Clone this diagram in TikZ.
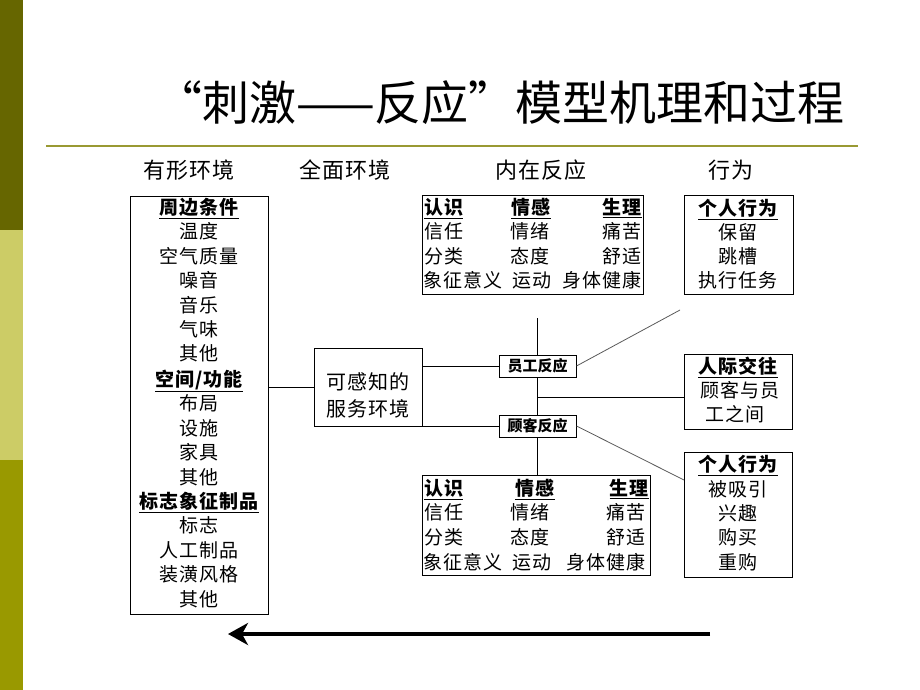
\documentclass[tikz,border=0pt]{standalone}
\usepackage{fontspec}
\setmainfont{Noto Sans CJK SC}
\newfontfamily\bodyfont{Noto Sans CJK SC}[LetterSpace=6]
\usetikzlibrary{arrows.meta}
\definecolor{oliveA}{HTML}{666600}
\definecolor{oliveB}{HTML}{CCCC66}
\definecolor{oliveC}{HTML}{999900}
\definecolor{ruleC}{HTML}{999933}
\begin{document}
\begin{tikzpicture}[x=1pt,y=-1pt,
  box/.style={draw, line width=1pt, rectangle, inner sep=0pt},
  txt/.style={inner sep=0pt, text height=17pt, text depth=4pt, font=\bodyfont\fontsize{19}{19}\selectfont},
  hd/.style={inner sep=0pt, text height=17pt, text depth=4pt, font=\bodyfont\fontsize{19}{19}\selectfont\bfseries},
  colhd/.style={inner sep=0pt, font=\bodyfont\fontsize{22}{22}\selectfont},
  react/.style={box, minimum width=77pt, minimum height=22pt, font=\fontsize{15}{15}\selectfont\bfseries},
  conn/.style={line width=1pt},
  diag/.style={line width=0.8pt, gray!70!black}]
\useasboundingbox (0,0) rectangle (920,690);
% side bar
\fill[oliveA] (0,0) rectangle (23,230);
\fill[oliveB] (0,230) rectangle (23,460);
\fill[oliveC] (0,460) rectangle (23,690);
% title and rule
\node[inner sep=0pt, font=\fontsize{47}{47}\selectfont] (title) at (500,103) {“刺激——反应”模型机理和过程};
\coordinate (ruleL) at (46,146);
\coordinate (ruleR) at (858,146);
\draw[ruleC, line width=2pt] (ruleL) -- (ruleR);
% column headers
\node[colhd] (h1) at (189,170) {有形环境};
\node[colhd] (h2) at (345,170) {全面环境};
\node[colhd] (h3) at (541,170) {内在反应};
\node[colhd] (h4) at (731,170) {行为};
% boxes
\node[box, minimum width=138pt, minimum height=418pt] (env) at (199,405) {};
\node[box, minimum width=108pt, minimum height=78pt] (perc) at (368,387) {};
\node[react] (staff) at (537.5,366) {员工反应};
\node[react] (cust) at (537.5,426) {顾客反应};
\node[box, minimum width=221pt, minimum height=99pt] (upin) at (532.5,244.5) {};
\node[box, minimum width=228pt, minimum height=100pt] (lowin) at (536,525) {};
\node[box, minimum width=109pt, minimum height=99pt] (beh1) at (738.5,244.5) {};
\node[box, minimum width=108pt, minimum height=75pt] (inter) at (738,391.5) {};
\node[box, minimum width=108pt, minimum height=125pt] (beh2) at (738,514.5) {};
% left list
\node[hd] (l1) at (199,208) {\underline{周边条件}};
\node[txt] (l2) at (199,232) {温度};
\node[txt] (l3) at (199,257) {空气质量};
\node[txt] (l4) at (199,281) {噪音};
\node[txt] (l5) at (199,306) {音乐};
\node[txt] (l6) at (199,330) {气味};
\node[txt] (l7) at (199,354) {其他};
\node[hd] (l8) at (199,380) {\underline{空间/功能}};
\node[txt] (l9) at (199,404) {布局};
\node[txt] (l10) at (199,429) {设施};
\node[txt] (l11) at (199,453) {家具};
\node[txt] (l12) at (199,478) {其他};
\node[hd] (l13) at (199,502) {\underline{标志象征制品}};
\node[txt] (l14) at (199,526) {标志};
\node[txt] (l15) at (199,551) {人工制品};
\node[txt] (l16) at (199,575) {装潢风格};
\node[txt] (l17) at (199,600) {其他};
% perceived environment
\node[txt, font=\bodyfont\fontsize{20}{20}\selectfont] (p1) at (368,383) {可感知的};
\node[txt, font=\bodyfont\fontsize{20}{20}\selectfont] (p2) at (368,410) {服务环境};
% upper inner box
\node[hd, anchor=west] (u11) at (424,208) {\underline{认识}};
\node[hd] (u12) at (531,208) {\underline{情感}};
\node[hd, anchor=east] (u13) at (642,208) {\underline{生理}};
\node[txt, anchor=west] (u21) at (424,232) {信任};
\node[txt] (u22) at (530,232) {情绪};
\node[txt, anchor=east] (u23) at (642,232) {痛苦};
\node[txt, anchor=west] (u31) at (424,257) {分类};
\node[txt] (u32) at (530,257) {态度};
\node[txt, anchor=east] (u33) at (642,257) {舒适};
\node[txt, anchor=west] (u41) at (423,281) {象征意义};
\node[txt] (u42) at (532,281) {运动};
\node[txt, anchor=east] (u43) at (642,281) {身体健康};
% lower inner box
\node[hd, anchor=west] (d11) at (424,489) {\underline{认识}};
\node[hd] (d12) at (535,489) {\underline{情感}};
\node[hd, anchor=east] (d13) at (649,489) {\underline{生理}};
\node[txt, anchor=west] (d21) at (424,513) {信任};
\node[txt] (d22) at (530,513) {情绪};
\node[txt, anchor=east] (d23) at (646,513) {痛苦};
\node[txt, anchor=west] (d31) at (424,538) {分类};
\node[txt] (d32) at (530,538) {态度};
\node[txt, anchor=east] (d33) at (646,538) {舒适};
\node[txt, anchor=west] (d41) at (423,563) {象征意义};
\node[txt] (d42) at (532,563) {运动};
\node[txt, anchor=east] (d43) at (646,563) {身体健康};
% behaviour boxes
\node[hd] (b11) at (738,209) {\underline{个人行为}};
\node[txt] (b12) at (738,233) {保留};
\node[txt] (b13) at (738,257) {跳槽};
\node[txt] (b14) at (738,281) {执行任务};
\node[hd] (i1) at (738,367) {\underline{人际交往}};
\node[txt] (i2) at (740,391) {顾客与员};
\node[txt] (i3) at (735,415) {工之间};
\node[hd] (b21) at (738,465) {\underline{个人行为}};
\node[txt] (b22) at (738,490) {被吸引};
\node[txt] (b23) at (738,514) {兴趣};
\node[txt] (b24) at (738,538) {购买};
\node[txt] (b25) at (738,563) {重购};
% connectors
\draw[conn] (perc.west) -- (perc.west -| env.east);
\draw[conn] (staff.west -| perc.east) -- (staff.west);
\draw[conn] (cust.west -| perc.east) -- (cust.west);
\coordinate (vtop) at (537.5,318);
\draw[conn] (vtop) -- (staff.north);
\draw[conn] (staff.south) -- (cust.north);
\draw[conn] (cust.south) -- (cust.south |- lowin.north);
\coordinate (hj) at (537.5,397);
\draw[conn] (hj) -- (hj -| inter.west);
\coordinate (dfree) at (680,310);
\draw[diag] (staff.east) -- (dfree);
\coordinate (b2in) at (684,480);
\draw[diag] (cust.east) -- (b2in);
% bottom arrow
\coordinate (arrR) at (710,634);
\coordinate (arrL) at (228,634);
\draw[line width=4pt, -{Stealth[length=20pt, width=22pt, inset=6pt]}] (arrR) -- (arrL);
\end{tikzpicture}
\end{document}
